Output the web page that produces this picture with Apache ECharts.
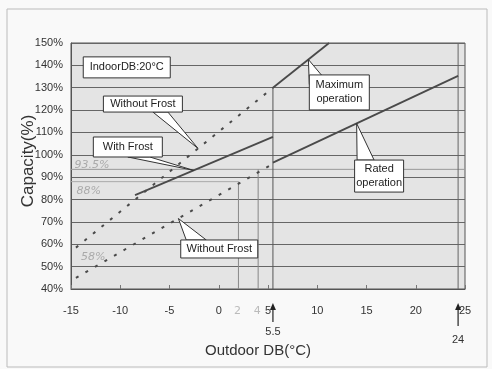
<!DOCTYPE html>
<html lang="en">
<head>
  <meta charset="UTF-8">
  <title>capacity vs outdoor temp</title>
  <script src="https://cdn.jsdelivr.net/npm/echarts@6/dist/echarts.min.js"></script>
  <style>
    html, body { margin: 0; padding: 0; background: #f9f9f9; }
    #main { width: 492px; height: 369px; }
  </style>
</head>
<body>
  <div id="main"></div>
  <script>
    // curves (x = outdoor DB °C, y = capacity %)
    let withFrost = [[-8.5, 82], [5.5, 108]];
    let withoutFrostHigh = [[-14.5, 58.5], [5.5, 130]];
    let withoutFrostLow = [[-14.5, 45], [5.5, 96]];
    let maxOperation = [[5.5, 130], [11.2, 150]];
    let ratedOperation = [[5.5, 96.5], [24.3, 135.3]];

    // guide lines drawn by hand on the print
    let guide55 = [[5.5, 40], [5.5, 130]];
    let guide24 = [[24.3, 40], [24.3, 150]];
    let guide2 = [[2, 40], [2, 88]];
    let guide4 = [[4, 40], [4, 93.5]];
    let handLevels = [93.5, 88];
    let handNotes = ['93.5%', '88%', '58%'];
    let arrowMarks = [5.5, 24.3];
    let arrowTexts = ['5.5', '24'];

    const FONT = 'Liberation Sans';
    const INK = '#4a4a4a';

    let dom = document.getElementById('main');
    let chart = echarts.init(dom);

    function lineSeries(data, style) {
      return {
        type: 'line', data: data, symbol: 'none', silent: true,
        lineStyle: Object.assign({ color: INK, width: 1.8 }, style)
      };
    }

    let option = {
      animation: false,
      textStyle: { fontFamily: FONT },
      grid: {
        left: 71, right: 27, top: 43, bottom: 80,
        show: true, backgroundColor: '#e4e4e4', borderColor: '#555', borderWidth: 1
      },
      xAxis: {
        type: 'value', min: -15, max: 25, interval: 5,
        name: 'Outdoor DB(°C)', nameLocation: 'middle', nameGap: 54,
        nameTextStyle: { fontSize: 15, color: '#333', padding: [0, 20, 0, 0] },
        axisLine: { show: true, onZero: false, lineStyle: { color: '#555' } },
        axisTick: { show: true, inside: true, length: 4, lineStyle: { color: '#777' } },
        axisLabel: { fontSize: 11, color: '#333', margin: 16 },
        splitLine: { show: false }
      },
      yAxis: {
        type: 'value', min: 40, max: 150, interval: 10,
        axisLine: { show: true, onZero: false, lineStyle: { color: '#555' } },
        axisTick: { show: false },
        axisLabel: { fontSize: 11, color: '#333', margin: 8, formatter: '{value}%' },
        splitLine: { lineStyle: { color: '#666', width: 1 } }
      },
      series: [
        lineSeries([[-15, handLevels[0]], [25, handLevels[0]]], { color: '#999', width: 1 }),
        lineSeries([[-15, handLevels[1]], [2, handLevels[1]]], { color: '#aaa', width: 1 }),
        lineSeries(guide2, { color: '#888', width: 1 }),
        lineSeries(guide4, { color: '#888', width: 1 }),
        lineSeries(guide55, { color: '#555', width: 1 }),
        lineSeries(guide24, { color: '#666', width: 1 }),
        lineSeries(withoutFrostHigh, { type: [3, 8], width: 2 }),
        lineSeries(withoutFrostLow, { type: [3, 8], width: 2 }),
        lineSeries(withFrost, {}),
        lineSeries(maxOperation, {}),
        lineSeries(ratedOperation, {})
      ]
    };
    chart.setOption(option);

    function px(pt) { return chart.convertToPixel({ gridIndex: 0 }, pt); }
    function onLine(line, x) {
      let a = line[0], b = line[1];
      return [x, a[1] + (b[1] - a[1]) * (x - a[0]) / (b[0] - a[0])];
    }

    // callout boxes: centre in data coords, size in px, wedge base offsets from centre
    let callouts = [
      { text: 'IndoorDB:20°C', at: [-9.34, 139.1], w: 87, h: 21 },
      { text: 'Without Frost', at: [-7.7, 122.7], w: 79, h: 16, tip: onLine(withoutFrostHigh, -2.1), base: [[10, 8], [25, 8]] },
      { text: 'With Frost', at: [-9.23, 103.5], w: 69, h: 20, tip: onLine(withFrost, -2.55), base: [[0, 10], [22, 10]] },
      { text: 'Maximum\noperation', at: [12.24, 127.9], w: 60, h: 35, tip: onLine(maxOperation, 9.1), base: [[-30, -8], [-18, -17.5]] },
      { text: 'Rated\noperation', at: [16.28, 90.5], w: 49, h: 32, tip: onLine(ratedOperation, 14), base: [[-22, -16], [-5, -16]] },
      { text: 'Without Frost', at: [0.05, 57.9], w: 77, h: 18, tip: onLine(withoutFrostLow, -4.1), base: [[-33, -9], [-13, -9]] }
    ];

    let graphic = [];
    graphic.push({
      type: 'rect', shape: { x: 7, y: 9, width: 480, height: 358 },
      style: { fill: null, stroke: '#bbb', lineWidth: 1 }, z: 0, silent: true
    });
    // y axis title, rotated
    graphic.push({
      type: 'text', x: 28, y: 161, rotation: Math.PI / 2, z: 40,
      style: { text: 'Capacity(%)', fontFamily: FONT, fontSize: 17, fill: '#333', align: 'center', verticalAlign: 'middle' }
    });

    callouts.forEach(c => {
      let p = px(c.at);
      if (c.tip) {
        let t = px(c.tip);
        graphic.push({
          type: 'polygon', z: 50,
          shape: { points: [[p[0] + c.base[0][0], p[1] + c.base[0][1]], t, [p[0] + c.base[1][0], p[1] + c.base[1][1]]] },
          style: { fill: '#fff', stroke: '#333', lineWidth: 1 }
        });
      }
      graphic.push({
        type: 'rect', z: 51,
        shape: { x: p[0] - c.w / 2, y: p[1] - c.h / 2, width: c.w, height: c.h },
        style: { fill: '#fff', stroke: '#333', lineWidth: 1 }
      });
      graphic.push({
        type: 'text', z: 52, x: p[0], y: p[1],
        style: {
          text: c.text, fontFamily: FONT, fontSize: 11, fill: '#222',
          align: 'center', verticalAlign: 'middle', lineHeight: 14
        }
      });
    });

    // pencil notes
    let notePos = [[-12.86, 95.5], [-13.2, 83.8], [-12.75, 54.3]];
    handNotes.forEach((n, i) => {
      let p = px(notePos[i]);
      graphic.push({
        type: 'text', z: 40, x: p[0], y: p[1],
        style: { text: n, fontFamily: 'DejaVu Sans', fontStyle: 'italic', fontSize: 11, fill: '#aaa', align: 'center', verticalAlign: 'middle' }
      });
    });
    [2, 4].forEach(v => {
      let p = px([v, 40]);
      graphic.push({
        type: 'text', z: 40, x: p[0] - 1, y: p[1] + 22,
        style: { text: String(v), fontFamily: 'DejaVu Sans', fontSize: 11, fill: '#bbb', align: 'center', verticalAlign: 'middle' }
      });
    });

    // arrows under the axis
    arrowMarks.forEach((v, i) => {
      let p = px([v, 40]);
      let top = p[1] + 14, bottom = p[1] + (i === 0 ? 33 : 37);
      graphic.push({
        type: 'line', z: 40, shape: { x1: p[0], y1: top + 4, x2: p[0], y2: bottom },
        style: { stroke: '#333', lineWidth: 1.3 }
      });
      graphic.push({
        type: 'polygon', z: 40, shape: { points: [[p[0], top], [p[0] - 3, top + 7], [p[0] + 3, top + 7]] },
        style: { fill: '#222' }
      });
      graphic.push({
        type: 'text', z: 40, x: p[0], y: bottom + (i === 0 ? 10 : 14),
        style: { text: arrowTexts[i], fontFamily: FONT, fontSize: 11, fill: '#333', align: 'center', verticalAlign: 'middle' }
      });
    });

    chart.setOption({ graphic: graphic });
  </script>
</body>
</html>
